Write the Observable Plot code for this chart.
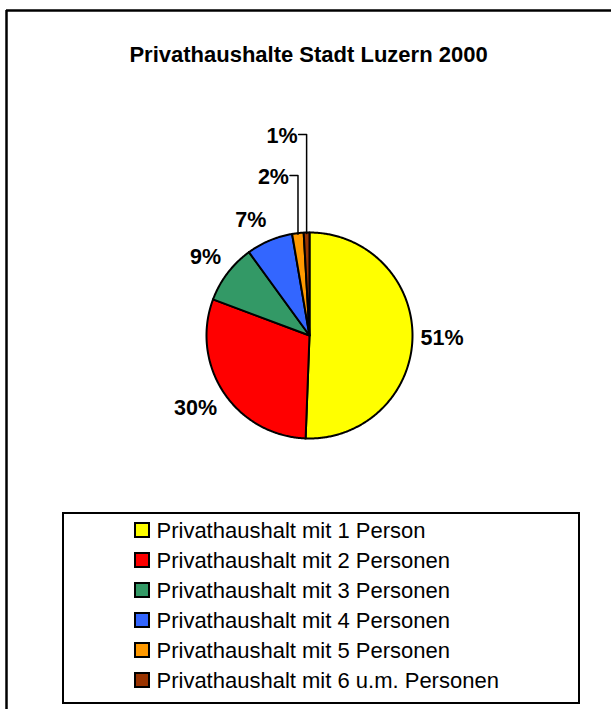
<!DOCTYPE html>
<html><head><meta charset="utf-8">
<script src="https://cdn.jsdelivr.net/npm/d3@7"></script>
<script src="https://cdn.jsdelivr.net/npm/@observablehq/plot@0.6"></script>
<style>html,body{margin:0;padding:0;background:#fff;overflow:hidden}</style>
</head><body><div id="chart"></div>
<script>
const title = "Privathaushalte Stadt Luzern 2000";
const categories = [
  "Privathaushalt mit 1 Person",
  "Privathaushalt mit 2 Personen",
  "Privathaushalt mit 3 Personen",
  "Privathaushalt mit 4 Personen",
  "Privathaushalt mit 5 Personen",
  "Privathaushalt mit 6 u.m. Personen"
];
const shares = [50.6, 30.1, 9.3, 7.3, 1.8, 0.9];
const labels = ["51%", "30%", "9%", "7%", "2%", "1%"];
const colors = ["#FFFF00", "#FF0000", "#339966", "#3366FF", "#FF9900", "#993300"];

// layout
const W = 611, H = 709;
const cx = 309, cy = 335, R = 103;
const labelSize = 21.5;

const rows = categories.map((c, i) => ({cat: c, value: shares[i], label: labels[i], color: colors[i], i}));
const arcs = d3.pie().sort(null).value(d => d.value)(rows);

const pt = (a, r) => ({x: cx + r * Math.sin(a), y: cy - r * Math.cos(a)});

// slice polygons
const slicePts = arcs.map(a => {
  const pts = [{x: cx, y: cy}];
  const n = Math.max(2, Math.ceil((a.endAngle - a.startAngle) / 0.01));
  for (let k = 0; k <= n; k++) pts.push(pt(a.startAngle + (a.endAngle - a.startAngle) * k / n, R));
  return pts;
});

// labels
const textW = s => labelSize * (s.replace("%", "").length * 0.556 + 0.889);
const big = [], leaders = [], small = [];
let j = 0;
arcs.forEach(a => {
  const mid = (a.startAngle + a.endAngle) / 2;
  const dx = Math.sin(mid), dy = -Math.cos(mid);
  const s = a.data.label;
  if (a.data.value >= 5) {
    const px = cx + dx * (R + 8), py = cy + dy * (R + 14);
    const sx = Math.abs(dx) > 0.25 ? Math.sign(dx) : dx / 0.25;
    const sy = Math.abs(dy) > 0.25 ? Math.sign(dy) : dy / 0.25;
    big.push({x: px + sx * textW(s) / 2, y: py + sy * 8, label: s});
  } else {
    const p = pt(mid, R - 1);
    const ly = cy - R - 57 - 41 * j;
    j++;
    leaders.push([{x: p.x, y: p.y}, {x: p.x, y: ly}, {x: p.x - 8, y: ly}]);
    small.push({x: p.x - 9, y: ly + 2, label: s});
  }
});

// legend
const legend = rows.map(r => ({...r, y: 530 + 30 * r.i}));

const marks = [
  Plot.ruleX([6], {y1: 10, y2: H, stroke: "black", strokeWidth: 2.5}),
  Plot.ruleY([10], {x1: 6, x2: W, stroke: "black", strokeWidth: 2.5}),
  Plot.text([title], {x: () => 308, y: () => 54, text: d => d, fontSize: 22, fontWeight: "bold", fill: "black"}),
  ...slicePts.map((p, i) => Plot.line(p, {x: "x", y: "y", fill: colors[i], stroke: "black", strokeWidth: 2, curve: "linear-closed", strokeLinejoin: "round"})),
  ...leaders.map(p => Plot.line(p, {x: "x", y: "y", stroke: "black", strokeWidth: 1.5})),
  Plot.text(big, {x: "x", y: "y", text: "label", fontSize: labelSize, fontWeight: "bold", fill: "black"}),
  Plot.text(small, {x: "x", y: "y", text: "label", fontSize: labelSize, fontWeight: "bold", fill: "black", textAnchor: "end"}),
  Plot.rect([0], {x1: () => 63, x2: () => 579, y1: () => 513, y2: () => 703, fill: "none", stroke: "black", strokeWidth: 2}),
  Plot.rect(legend, {x1: () => 135, x2: () => 149, y1: d => d.y - 7, y2: d => d.y + 7, fill: "color", stroke: "black", strokeWidth: 2}),
  Plot.text(legend, {x: () => 156, y: "y", text: "cat", textAnchor: "start", fontSize: 22, fill: "black"})
];

const chart = Plot.plot({
  width: W, height: H,
  margin: 0,
  x: {domain: [0, W], range: [0, W], axis: null},
  y: {domain: [0, H], range: [0, H], axis: null},
  color: {type: "identity"},
  style: {fontFamily: "'Liberation Sans', Arial, sans-serif", background: "white"},
  marks
});
document.getElementById("chart").appendChild(chart);
</script>
</body></html>
